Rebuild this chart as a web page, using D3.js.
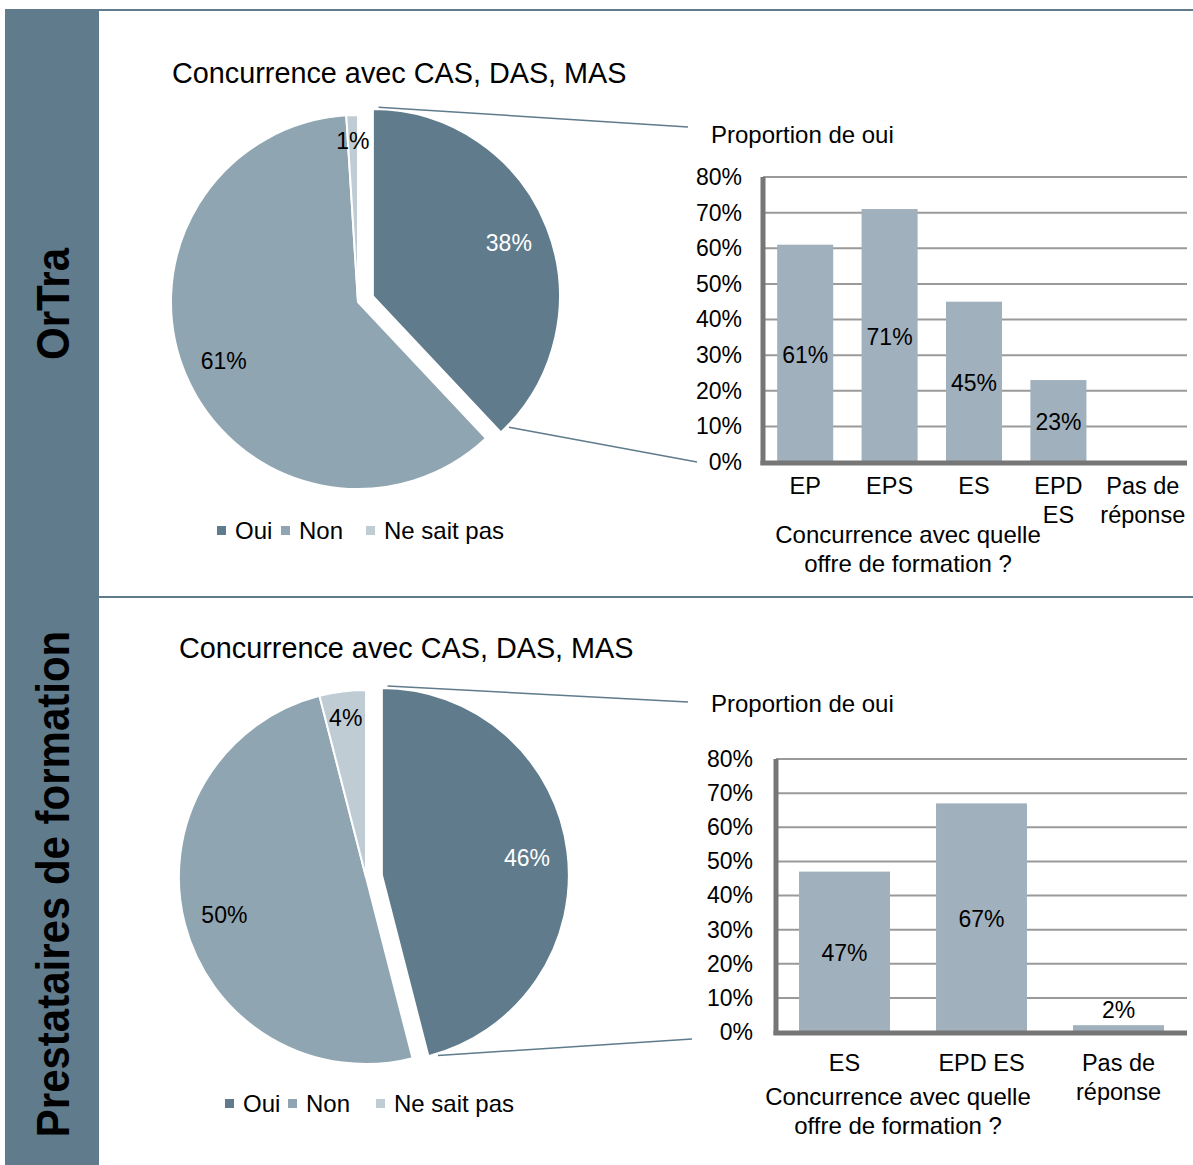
<!DOCTYPE html>
<html>
<head>
<meta charset="utf-8">
<script src="https://cdn.jsdelivr.net/npm/d3@7"></script>
<style>
  html, body { margin: 0; padding: 0; background: #fff; }
  svg text { font-family: "Liberation Sans", Arial, sans-serif; fill: #000; }
</style>
</head>
<body>
<div id="chart"></div>
<script>
// 1. DATA
const groupNames = ["OrTra", "Prestataires de formation"]
const pieTitle = "Concurrence avec CAS, DAS, MAS"
const pieCategories = ["Oui", "Non", "Ne sait pas"]
const pieOrTra = [38, 61, 1]
const piePrestataires = [46, 50, 4]

const barTitle = "Proportion de oui"
const barAxisTitle = ["Concurrence avec quelle", "offre de formation ?"]
const barCatsOrTra = ["EP", "EPS", "ES", "EPD ES", "Pas de réponse"]
const barValsOrTra = [61, 71, 45, 23, 0]
const barCatsPrest = ["ES", "EPD ES", "Pas de réponse"]
const barValsPrest = [47, 67, 2]
const yTicks = [0, 10, 20, 30, 40, 50, 60, 70, 80]

const pieColors = ["#5f7b8c", "#8fa5b1", "#bfccd4"]
const barColor = "#a0b1bd"
const bandColor = "#5f7b8c"

// 2. DIMENSIONS
const width = 1193, height = 1165

const svg = d3.select("#chart").append("svg")
    .attr("width", width)
    .attr("height", height)

// 3. FRAME
svg.append("rect")
    .attr("x", 5).attr("y", 9)
    .attr("width", 94).attr("height", height - 9)
    .attr("fill", bandColor)
svg.append("line")
    .attr("x1", 5).attr("x2", width).attr("y1", 10).attr("y2", 10)
    .attr("stroke", bandColor).attr("stroke-width", 2)
svg.append("line")
    .attr("x1", 99).attr("x2", width).attr("y1", 597).attr("y2", 597)
    .attr("stroke", bandColor).attr("stroke-width", 2)

const bandCenters = [304, 884]
groupNames.forEach((name, i) => {
    svg.append("text")
        .attr("transform", `translate(69,${bandCenters[i]}) rotate(-90) scale(1,1.12)`)
        .attr("text-anchor", "middle")
        .style("font-size", "42px")
        .style("font-weight", "bold")
        .text(name)
})

// 4. PIES
function drawPie(values, cfg) {
    const g = svg.append("g")
    g.append("text")
        .attr("x", cfg.titleX).attr("y", cfg.titleY)
        .style("font-size", "28.8px")
        .text(pieTitle)

    const pie = d3.pie().sort(null).value(d => d)
    const arcs = pie(values)
    const arc = d3.arc().innerRadius(0).outerRadius(cfg.r)

    const slices = g.append("g")
        .attr("transform", `translate(${cfg.cx},${cfg.cy})`)

    arcs.forEach((a, i) => {
        const mid = (a.startAngle + a.endAngle) / 2
        const off = i === 0 ? cfg.explode : 0
        const dx = Math.sin(mid) * off, dy = -Math.cos(mid) * off
        const sg = slices.append("g").attr("transform", `translate(${dx},${dy})`)
        sg.append("path")
            .attr("d", arc(a))
            .attr("fill", pieColors[i])
            .attr("stroke", "#fff")
            .attr("stroke-width", 2)
        const lr = a.data < 5 ? cfg.r * 0.866 : cfg.r * 0.782
        sg.append("text")
            .attr("x", Math.sin(mid) * lr)
            .attr("y", -Math.cos(mid) * lr)
            .attr("dy", "0.4em")
            .attr("text-anchor", "middle")
            .style("font-size", "23px")
            .style("fill", i === 0 ? "#fff" : "#000")
            .text(a.data + "%")

        if (i === 0) {
            // connector lines from exploded slice to bar chart
            const ends = [cfg.lineTop, cfg.lineBottom]
            const angs = [a.startAngle + 0.03, a.endAngle - 0.05]
            angs.forEach((ang, k) => {
                g.append("line")
                    .attr("x1", cfg.cx + dx + Math.sin(ang) * (cfg.r + 2))
                    .attr("y1", cfg.cy + dy - Math.cos(ang) * (cfg.r + 2))
                    .attr("x2", ends[k][0]).attr("y2", ends[k][1])
                    .attr("stroke", bandColor).attr("stroke-width", 1.5)
            })
        }
    })

    // legend
    const leg = g.append("g")
    cfg.legendX.forEach((x, i) => {
        leg.append("rect")
            .attr("x", x).attr("y", cfg.legendY - 5)
            .attr("width", 9).attr("height", 9)
            .attr("fill", pieColors[i])
        leg.append("text")
            .attr("x", x + 18).attr("y", cfg.legendY)
            .attr("dy", "0.35em")
            .style("font-size", "24px")
            .text(pieCategories[i])
    })
}

drawPie(pieOrTra, {
    cx: 358, cy: 302, r: 187, explode: 16,
    titleX: 172, titleY: 83,
    lineTop: [688, 127], lineBottom: [697, 462],
    legendX: [217, 281, 366], legendY: 531
})
drawPie(piePrestataires, {
    cx: 366, cy: 877, r: 187, explode: 16,
    titleX: 179, titleY: 658,
    lineTop: [688, 702], lineBottom: [692, 1039],
    legendX: [225, 288, 376], legendY: 1104
})

// 5. BAR CHARTS
function wrapLabel(text, maxW) {
    const words = text.split(" ")
    const probe = svg.append("text").style("font-size", "23px")
    const lines = []
    let cur = ""
    words.forEach(w => {
        const test = cur ? cur + " " + w : w
        probe.text(test)
        if (probe.node().getComputedTextLength() > maxW && cur) {
            lines.push(cur)
            cur = w
        } else {
            cur = test
        }
    })
    lines.push(cur)
    probe.remove()
    return lines
}

function drawBars(cats, vals, cfg) {
    const g = svg.append("g")
    const x = d3.scaleBand()
        .domain(cats)
        .range([cfg.x0, cfg.x1])
        .paddingInner(0.336)
        .paddingOuter(0.168)
    const y = d3.scaleLinear()
        .domain([0, 80])
        .range([cfg.y0, cfg.yTop])

    g.append("text")
        .attr("x", 711).attr("y", cfg.titleY)
        .attr("dy", "0.35em")
        .style("font-size", "24px")
        .text(barTitle)

    // gridlines
    g.selectAll(".grid")
        .data(yTicks.filter(t => t > 0))
        .enter().append("line")
        .attr("x1", cfg.x0).attr("x2", cfg.gridEnd)
        .attr("y1", d => y(d)).attr("y2", d => y(d))
        .attr("stroke", "#9a9a9a")
        .attr("stroke-width", 2)

    // y axis labels
    const yAxis = g.append("g")
        .attr("transform", `translate(${cfg.x0},0)`)
        .call(d3.axisLeft(y).tickValues(yTicks).tickSize(0).tickPadding(cfg.x0 - cfg.labelRight)
            .tickFormat(d => d + "%"))
    yAxis.select(".domain").remove()
    yAxis.selectAll("text")
        .style("font-size", "23px")
        .style("font-family", "'Liberation Sans', Arial, sans-serif")
        .attr("fill", "#000")

    // bars
    g.selectAll(".bar")
        .data(vals)
        .enter().append("rect")
        .attr("x", (d, i) => x(cats[i]))
        .attr("y", d => y(d))
        .attr("width", x.bandwidth())
        .attr("height", d => y(0) - y(d))
        .attr("fill", barColor)

    // bar labels
    g.selectAll(".lbl")
        .data(vals.filter(v => v > 0).map(v => ({ v, c: cats[vals.indexOf(v)] })))
        .enter().append("text")
        .attr("x", d => x(d.c) + x.bandwidth() / 2)
        .attr("y", d => (y(0) - y(d.v)) < 30 ? y(d.v) - 16 : (y(0) + y(d.v)) / 2)
        .attr("dy", "0.4em")
        .attr("text-anchor", "middle")
        .style("font-size", "23px")
        .text(d => d.v + "%")

    // axis lines
    g.append("line")
        .attr("x1", cfg.x0).attr("x2", cfg.x0)
        .attr("y1", cfg.yTop).attr("y2", cfg.y0 + 3)
        .attr("stroke", "#767676").attr("stroke-width", 5)
    g.append("line")
        .attr("x1", cfg.x0 - 2.5).attr("x2", cfg.gridEnd)
        .attr("y1", cfg.y0 + 1).attr("y2", cfg.y0 + 1)
        .attr("stroke", "#767676").attr("stroke-width", 5)

    // x tick labels
    cats.forEach(c => {
        const lines = wrapLabel(c, x.step() * 0.95)
        lines.forEach((ln, k) => {
            g.append("text")
                .attr("x", x(c) + x.bandwidth() / 2)
                .attr("y", cfg.tickY + k * 29)
                .attr("dy", "0.35em")
                .attr("text-anchor", "middle")
                .style("font-size", "23.5px")
                .text(ln)
        })
    })

    // axis title
    barAxisTitle.forEach((ln, k) => {
        g.append("text")
            .attr("x", cfg.axisTitleX)
            .attr("y", cfg.axisTitleY + k * 29)
            .attr("dy", "0.35em")
            .attr("text-anchor", "middle")
            .style("font-size", "24px")
            .text(ln)
    })
}

drawBars(barCatsOrTra, barValsOrTra, {
    x0: 763, x1: 1185, gridEnd: 1187, y0: 462, yTop: 177,
    labelRight: 742, titleY: 135, tickY: 486,
    axisTitleX: 908, axisTitleY: 535
})
drawBars(barCatsPrest, barValsPrest, {
    x0: 776, x1: 1187, gridEnd: 1187, y0: 1032, yTop: 759,
    labelRight: 753, titleY: 704, tickY: 1063,
    axisTitleX: 898, axisTitleY: 1097
})
</script>
</body>
</html>
